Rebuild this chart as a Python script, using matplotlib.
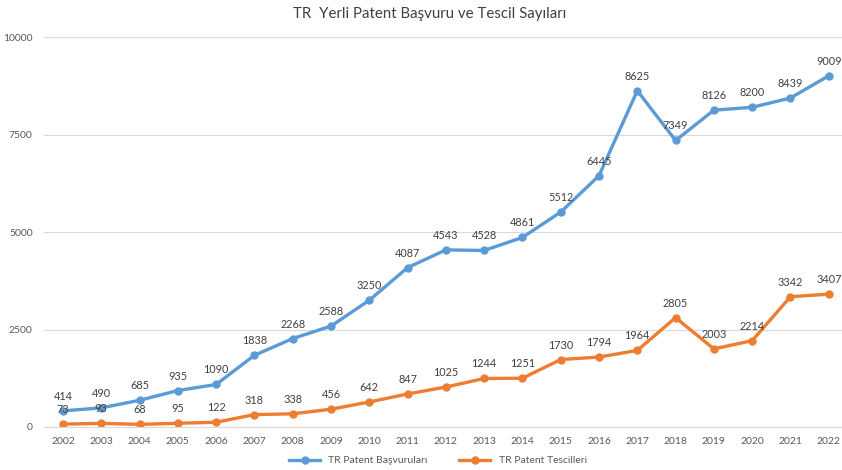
import matplotlib.pyplot as plt

years = [str(y) for y in range(2002, 2023)]
basvuru = [414, 490, 685, 935, 1090, 1838, 2268, 2588, 3250, 4087, 4543,
           4528, 4861, 5512, 6445, 8625, 7349, 8126, 8200, 8439, 9009]
tescil = [73, 93, 68, 95, 122, 318, 338, 456, 642, 847, 1025,
          1244, 1251, 1730, 1794, 1964, 2805, 2003, 2214, 3342, 3407]

plt.rcParams['font.family'] = ['Lato', 'DejaVu Sans']

fig = plt.figure(figsize=(8.42, 4.7), dpi=100)
ax = fig.add_axes([0.052, 0.0915, 0.955, 0.8295])

blue = "#5B9BD5"
orange = "#ED7D31"
x = list(range(len(years)))

ax.plot(x, basvuru, color=blue, lw=2.4, marker="o", ms=5, label="TR Patent Başvuruları")
ax.plot(x, tescil, color=orange, lw=2.4, marker="o", ms=5, label="TR Patent Tescilleri")

for xi, v in zip(x, basvuru):
    ax.annotate(str(v), (xi, v), xytext=(0, 6.5), textcoords="offset points",
                ha="center", va="bottom", fontsize=7.8, color="#404040")
for xi, v in zip(x, tescil):
    ax.annotate(str(v), (xi, v), xytext=(0, 6.5), textcoords="offset points",
                ha="center", va="bottom", fontsize=7.8, color="#404040")

ax.set_xlim(-0.5, len(years) - 0.5)
ax.set_ylim(0, 10000)
ax.set_yticks([0, 2500, 5000, 7500, 10000])
ax.set_xticks(x)
ax.set_xticklabels(years)
ax.grid(axis="y", color="#D9D9D9", lw=0.8)
ax.set_axisbelow(True)
for s in ["top", "right", "left"]:
    ax.spines[s].set_visible(False)
ax.spines["bottom"].set_color("#D9D9D9")
ax.tick_params(axis="both", length=0, labelsize=7.5, labelcolor="#595959")
ax.tick_params(axis="x", pad=7)
ax.tick_params(axis="y", pad=8)

fig.suptitle("TR  Yerli Patent Başvuru ve Tescil Sayıları", x=0.51, y=0.985,
             fontsize=10.8, color="#404040")
fig.legend(loc="lower center", bbox_to_anchor=(0.52, -0.01), ncol=2,
           frameon=False, fontsize=7.5, labelcolor="#595959",
           handlelength=3, columnspacing=3)

fig.savefig("out.png", dpi=100)
